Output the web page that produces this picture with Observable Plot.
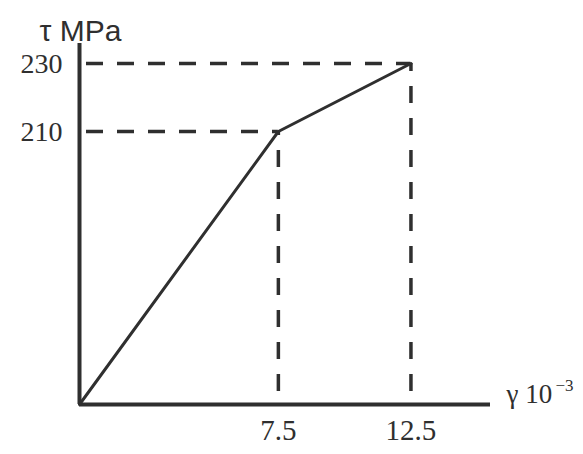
<!DOCTYPE html>
<html><head><meta charset="utf-8">
<script src="https://cdn.jsdelivr.net/npm/d3@7"></script>
<script src="https://cdn.jsdelivr.net/npm/@observablehq/plot@0.6"></script>
<style>html,body{margin:0;padding:0;background:#fff;}</style>
</head><body><div id="chart"></div>
<script>
const gamma = [0, 7.5, 12.5];
const tau = [0, 210, 230];
const xTicks = [7.5, 12.5];
const yTicks = [210, 230];
const yLabel = "τ MPa";
const xLabel = "γ 10";
const xLabelExp = "−3";

const pts = gamma.map((g, i) => ({gamma: g, tau: tau[i]}));
const corners = pts.slice(1);
const ink = "#2f2f2f";
const serif = "Liberation Serif, Times New Roman, serif";
const sans = "Liberation Sans, Arial, sans-serif";

// schematic (non-proportional) stress axis: the segment above 210 MPa is stretched
const stretch = v => v <= 210 ? v : 210 + (v - 210) * 2.615;

const chart = Plot.plot({
  width: 583, height: 454,
  marginLeft: 79, marginRight: 93, marginTop: 63, marginBottom: 50,
  x: {domain: [0, 15.5]},
  y: {transform: stretch, axis: null},
  style: {background: "#fff", color: ink},
  marks: [
    Plot.ruleY(corners, {y: "tau", x1: 0, x2: "gamma", stroke: ink, strokeWidth: 3.5, strokeDasharray: "17,14", strokeDashoffset: 24}),
    Plot.ruleX(corners, {x: "gamma", y1: 0, y2: "tau", stroke: ink, strokeWidth: 3.5, strokeDasharray: "17,15", strokeDashoffset: 19}),
    Plot.ruleX([0], {stroke: ink, strokeWidth: 4, insetTop: -20}),
    Plot.ruleY([0], {stroke: ink, strokeWidth: 4}),
    Plot.line(pts, {x: "gamma", y: "tau", stroke: ink, strokeWidth: 3}),
    Plot.axisX({ticks: xTicks, tickSize: 0, tickPadding: 15, tickFormat: d => String(d), fontSize: 29, fontFamily: serif, label: null}),
    Plot.text(yTicks, {y: d => d, text: d => String(d), frameAnchor: "left", textAnchor: "end", dx: -17, dy: 1, fontSize: 28, fontFamily: serif, fill: ink}),
    Plot.text([yLabel], {frameAnchor: "top-left", dx: -40, dy: -44, textAnchor: "start", fontSize: 30, fontFamily: sans, fill: ink}),
    Plot.text([xLabel], {frameAnchor: "bottom-right", dx: 16, dy: -2, textAnchor: "start", fontSize: 27, fontFamily: serif, fill: ink}),
    Plot.text([xLabelExp], {frameAnchor: "bottom-right", dx: 65, dy: -14, textAnchor: "start", fontSize: 17, fontFamily: serif, fill: ink})
  ]
});
document.getElementById("chart").appendChild(chart);
</script></body></html>
